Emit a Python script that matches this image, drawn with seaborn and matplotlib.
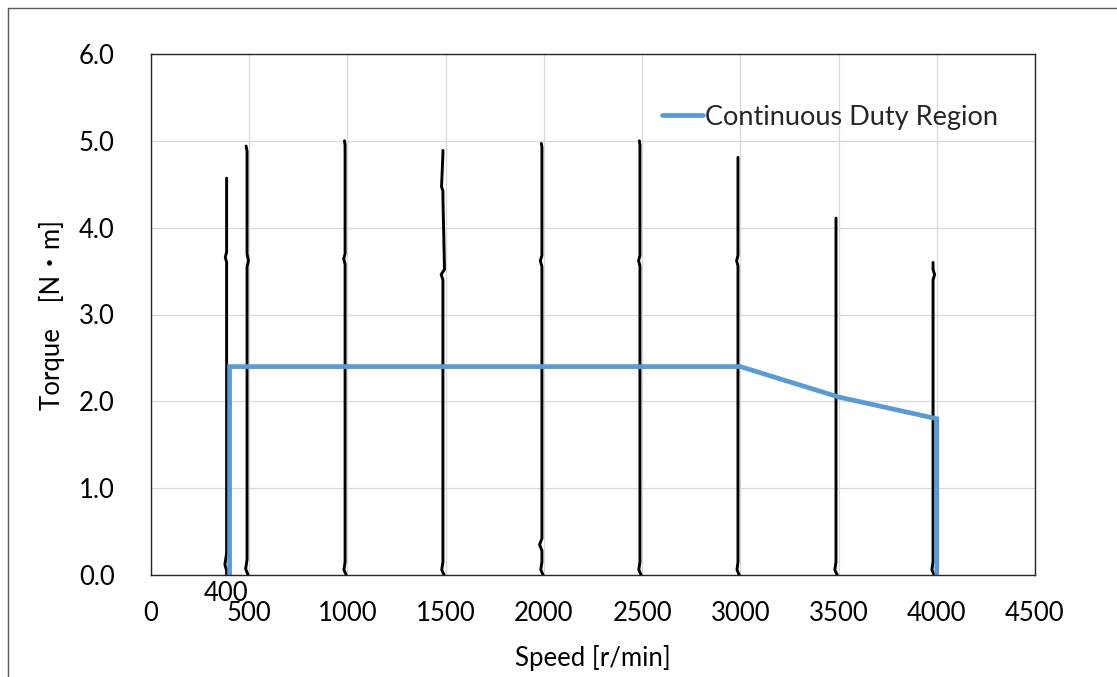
import matplotlib
matplotlib.use("Agg")
import matplotlib.pyplot as plt
import seaborn as sns
import pandas as pd
from matplotlib.lines import Line2D
from matplotlib.transforms import blended_transform_factory

# ---------------- data ----------------
# measured torque-speed traces (nearly vertical, with small wiggles)
t400_speed  = [385, 385, 376, 385, 385, 378, 385, 385]
t400_torque = [0.00, 0.05, 0.12, 0.25, 3.60, 3.66, 3.72, 4.57]
t500_speed  = [494, 482, 489, 489, 496, 489, 489, 484]
t500_torque = [0.00, 0.07, 0.18, 3.55, 3.62, 3.70, 4.88, 4.94]
t1000_speed  = [994, 982, 988, 988, 981, 988, 988, 985]
t1000_torque = [0.00, 0.06, 0.15, 3.58, 3.64, 3.70, 4.95, 5.00]
t1500_speed  = [1492, 1480, 1486, 1486, 1477, 1494, 1486, 1486, 1479, 1486, 1486]
t1500_torque = [0.00, 0.06, 0.15, 3.40, 3.46, 3.52, 4.35, 4.42, 4.47, 4.85, 4.89]
t2000_speed  = [1996, 1984, 1990, 1990, 1978, 1990, 1990, 1982, 1990, 1990, 1987]
t2000_torque = [0.00, 0.06, 0.15, 0.28, 0.35, 0.42, 3.55, 3.62, 3.68, 4.93, 4.97]
t2500_speed  = [2495, 2483, 2489, 2489, 2482, 2489, 2489, 2486]
t2500_torque = [0.00, 0.06, 0.15, 3.56, 3.62, 3.68, 4.95, 5.00]
t3000_speed  = [2994, 2983, 2988, 2988, 2981, 2988, 2988]
t3000_torque = [0.00, 0.06, 0.15, 3.56, 3.62, 3.68, 4.81]
t3500_speed  = [3493, 3481, 3487, 3487, 3487]
t3500_torque = [0.00, 0.06, 0.15, 3.20, 4.11]
t4000_speed  = [3987, 3975, 3981, 3981, 3989, 3981, 3981]
t4000_torque = [0.00, 0.06, 0.15, 3.40, 3.46, 3.52, 3.60]

# continuous duty region envelope
region_speed  = [400, 400, 3000, 3500, 4000, 4000]
region_torque = [0.0, 2.4, 2.4, 2.05, 1.8, 0.0]

x_ticks = [0, 500, 1000, 1500, 2000, 2500, 3000, 3500, 4000, 4500]
y_ticks = [0.0, 1.0, 2.0, 3.0, 4.0, 5.0, 6.0]
extra_x_label = 400

traces = [
    (t400_speed, t400_torque), (t500_speed, t500_torque),
    (t1000_speed, t1000_torque), (t1500_speed, t1500_torque),
    (t2000_speed, t2000_torque), (t2500_speed, t2500_torque),
    (t3000_speed, t3000_torque), (t3500_speed, t3500_torque),
    (t4000_speed, t4000_torque),
]
rows = []
for i, (sp, tq) in enumerate(traces):
    for k, (s, t) in enumerate(zip(sp, tq)):
        rows.append({"trace": i, "order": k, "speed": s, "torque": t})
df_traces = pd.DataFrame(rows)
df_region = pd.DataFrame({"speed": region_speed, "torque": region_torque})

# ---------------- plot ----------------
sns.set_theme(style="white")
FONT = ["Lato", "Noto Sans CJK JP", "DejaVu Sans"]
plt.rcParams["font.family"] = FONT
FS = 18.5

fig = plt.figure(figsize=(11.17, 6.77), dpi=100)
ax = fig.add_axes([151 / 1117, 1 - 575 / 677, (1035 - 151) / 1117, (575 - 54) / 677])

sns.lineplot(data=df_traces, x="speed", y="torque", units="trace", estimator=None,
             sort=False, color="black", linewidth=2.1, legend=False, ax=ax)
sns.lineplot(data=df_region, x="speed", y="torque", sort=False, estimator=None,
             color="#5B9BD5", linewidth=3.4, label="Continuous Duty Region", ax=ax,
             solid_joinstyle="miter")

ax.set_xlim(0, 4500)
ax.set_ylim(0, 6)
ax.set_xticks(x_ticks)
ax.set_xticklabels([str(v) for v in x_ticks])
ax.set_yticks(y_ticks)
ax.set_yticklabels([f"{v:.1f}" for v in y_ticks])
ax.tick_params(axis="both", length=0, labelsize=FS, colors="black")
ax.tick_params(axis="y", pad=26)
ax.tick_params(axis="x", pad=19)

ax.grid(True, color="#D9D9D9", linewidth=0.9)
ax.set_axisbelow(True)
for sp in ax.spines.values():
    sp.set_visible(True)
    sp.set_color("#262626")
    sp.set_linewidth(1.0)

ax.set_xlabel("Speed [r/min]", fontsize=FS, color="black")
ax.set_ylabel("Torque\u3000[N\u30FBm]", fontsize=FS, color="black", family=FONT)
ax.xaxis.set_label_coords(0.5, -0.135)
ax.yaxis.set_label_coords(-0.097, 0.5)

# extra "400" tick annotation
trans = blended_transform_factory(ax.transData, ax.transAxes)
ax.text(extra_x_label - 20, -0.012, str(extra_x_label), transform=trans,
        ha="center", va="top", fontsize=FS, color="black")

leg = ax.legend(loc="center left", bbox_to_anchor=(0.578, 0.879), frameon=False,
                fontsize=19.5, handlelength=1.5, handletextpad=0.1,
                borderpad=0, borderaxespad=0)

# outer chart frame (cropped at right/bottom)
fig.add_artist(Line2D([8 / 1117, 8 / 1117], [1 - 8 / 677, 0], transform=fig.transFigure,
                      color="#595959", linewidth=1.0))
fig.add_artist(Line2D([8 / 1117, 1], [1 - 8 / 677, 1 - 8 / 677], transform=fig.transFigure,
                      color="#595959", linewidth=1.0))

fig.savefig("out.png", dpi=100, facecolor="white")
